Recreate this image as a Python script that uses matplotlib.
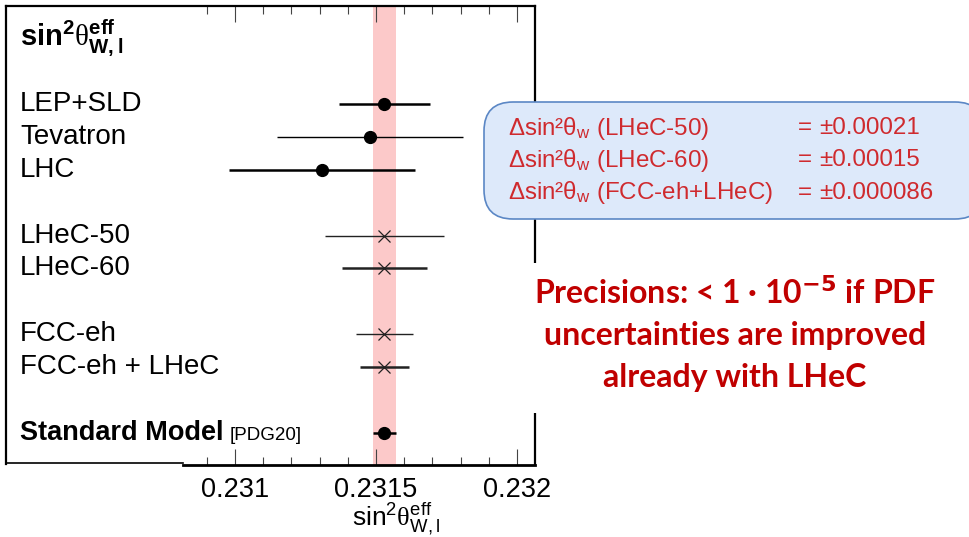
import matplotlib
matplotlib.use("Agg")
import matplotlib.pyplot as plt
from matplotlib.patches import FancyBboxPatch, Rectangle
from matplotlib.lines import Line2D
import matplotlib.transforms as mtransforms
import numpy as np

# ---------------- data ----------------
labels = ["LEP+SLD", "Tevatron", "LHC", "LHeC-50", "LHeC-60", "FCC-eh", "FCC-eh + LHeC"]
rows = [0, 1, 2, 4, 5, 7, 8]
values = [0.23153, 0.23148, 0.23131, 0.23153, 0.23153, 0.23153, 0.23153]
errors = [0.00016, 0.00033, 0.00033, 0.00021, 0.00015, 0.00010, 0.000086]
kinds = ["meas", "meas", "meas", "proj", "proj", "proj", "proj"]

sm_label = "Standard Model"
sm_ref = "[PDG20]"
sm_row = 10
sm_value = 0.23153
sm_error = 0.00004

major_ticks = [0.231, 0.2315, 0.232]
minor_ticks = [0.2309, 0.2311, 0.2312, 0.2313, 0.2314, 0.2316, 0.2317, 0.2318, 0.2319]
tick_labels = ["0.231", "0.2315", "0.232"]

box_names = ["(LHeC-50)", "(LHeC-60)", "(FCC-eh+LHeC)"]
box_values = ["±0.00021", "±0.00015", "±0.000086"]

note_lines = ["Precisions: < 1 · 10$^{\\mathbf{-5}}$ if PDF",
              "uncertainties are improved",
              "already with LHeC"]

# ---------------- style ----------------
plt.rcParams['font.family'] = ['Liberation Sans', 'DejaVu Sans']
plt.rcParams['mathtext.fontset'] = 'custom'
plt.rcParams['mathtext.rm'] = 'Liberation Sans'
plt.rcParams['mathtext.bf'] = 'Liberation Sans:bold'
plt.rcParams['mathtext.sf'] = 'Liberation Serif'
plt.rcParams['mathtext.it'] = 'Liberation Sans:italic'

W, H = 969, 537
fig = plt.figure(figsize=(W / 100, H / 100), dpi=100)

def fx(px):
    return px / W

def fy(py):
    return 1 - py / H

ax_l, ax_r, ax_t, ax_b = 6, 535, 6, 464.5
ax = fig.add_axes([fx(ax_l), fy(ax_b), fx(ax_r - ax_l), (ax_b - ax_t) / H])

x0 = 0.231 - (235 - ax_l) / 282000
x1 = 0.232 + (ax_r - 517) / 282000
ax.set_xlim(x0, x1)
row_px = 32.9
ax.set_ylim((ax_b - 104) / row_px, (ax_t - 104) / row_px)

# SM band
ax.axvspan(sm_value - sm_error, sm_value + sm_error, color='#fcc9c9', lw=0, zorder=1)

lw_list = [1.8, 1.0, 1.8, 1.0, 1.8, 1.0, 1.8]
for r, v, e, k, lw in zip(rows, values, errors, kinds, lw_list):
    if k == "meas":
        ax.errorbar(v, r, xerr=e, fmt='o', color='black', ms=8.5, elinewidth=lw,
                    capsize=0, zorder=3)
    else:
        ax.errorbar(v, r, xerr=e, fmt='x', color='#222222', ms=8, mew=0.9,
                    elinewidth=lw, capsize=0, zorder=3)
ax.errorbar(sm_value, sm_row, xerr=sm_error, fmt='o', color='black', ms=8.5,
            elinewidth=1.8, capsize=0, zorder=3)

# labels
trans = mtransforms.blended_transform_factory(ax.transAxes, ax.transData)
lx = (20 - ax_l) / (ax_r - ax_l)
for lab, r in zip(labels, rows):
    ax.text(lx, r, lab, transform=trans, ha='left', va='center', fontsize=20)
ax.text(lx, sm_row, sm_label, transform=trans, ha='left', va='center',
        fontsize=19.5, fontweight='bold')
ax.text((230 - ax_l) / (ax_r - ax_l), sm_row + 0.08, sm_ref, transform=trans,
        ha='left', va='center', fontsize=13.5)

ax.text(lx, -2.0,
        r'$\mathbf{sin}^{\mathbf{2}}\mathsf{\theta}^{\mathbf{eff}}_{\mathbf{W,l}}$',
        transform=trans, ha='left', va='center', fontsize=21)

# ticks
ax.set_yticks([])
ax.set_xticks(major_ticks)
ax.set_xticklabels(tick_labels, fontsize=19.5)
ax.set_xticks(minor_ticks, minor=True)
ax.tick_params(axis='x', which='major', direction='in', length=11.5, width=0.8,
               top=True, bottom=True, color='#444444', pad=9)
ax.tick_params(axis='x', which='minor', direction='in', length=5.8, width=0.8,
               top=True, bottom=True, color='#444444')

ax.set_xlabel(r'$\mathrm{sin}^{2}\mathsf{\theta}^{\mathrm{eff}}_{\mathrm{W,l}}$',
              fontsize=19, labelpad=0)
ax.xaxis.set_label_coords((396 - ax_l) / (ax_r - ax_l), -(500.5 - ax_b) / (ax_b - ax_t))

for s in ['left', 'top', 'right']:
    ax.spines[s].set_linewidth(1.6)
ax.spines['bottom'].set_linewidth(2.0)
xstart = 0.231 - (235 - 183) / 282000
ax.spines['bottom'].set_bounds(xstart, x1)
ax.add_line(Line2D([0, (183 - ax_l) / (ax_r - ax_l)], [0.003, 0.003],
                   transform=ax.transAxes, color='black', lw=1.2, clip_on=False))

# white area behind note text (hides frame edge)
fig.patches.append(Rectangle((fx(503), fy(413)), fx(969 - 503), (413 - 263) / H,
                             transform=fig.transFigure, facecolor='white',
                             edgecolor='none', zorder=5))

# blue info box
box = FancyBboxPatch((fx(484), fy(219)), fx(500), (219 - 102) / H,
                     boxstyle="round,pad=0,rounding_size=0.03",
                     transform=fig.transFigure, facecolor='#dde9fa',
                     edgecolor='#5b87c5', linewidth=1.2, zorder=6,
                     mutation_aspect=W / H)
fig.patches.append(box)
red = '#cf2a2e'
box_y = [128, 160, 193]
for name, val, y in zip(box_names, box_values, box_y):
    fig.text(fx(508), fy(y), 'Δsin²θ$_\\mathrm{w}$ ' + name, color=red, fontsize=17.4,
             ha='left', va='center', zorder=7)
    fig.text(fx(798), fy(y), '=', color=red, fontsize=17.4, ha='left', va='center', zorder=7)
    fig.text(fx(819), fy(y), val, color=red, fontsize=17.4, ha='left', va='center', zorder=7)

# note text
note_y = [293, 335, 378]
for line, y in zip(note_lines, note_y):
    fig.text(fx(735), fy(y), line, color='#c00000', fontsize=23, fontweight='bold',
             family=['Lato', 'DejaVu Sans'], ha='center', va='center', zorder=7,
             math_fontfamily='dejavusans')

fig.savefig("out.png", dpi=100)
